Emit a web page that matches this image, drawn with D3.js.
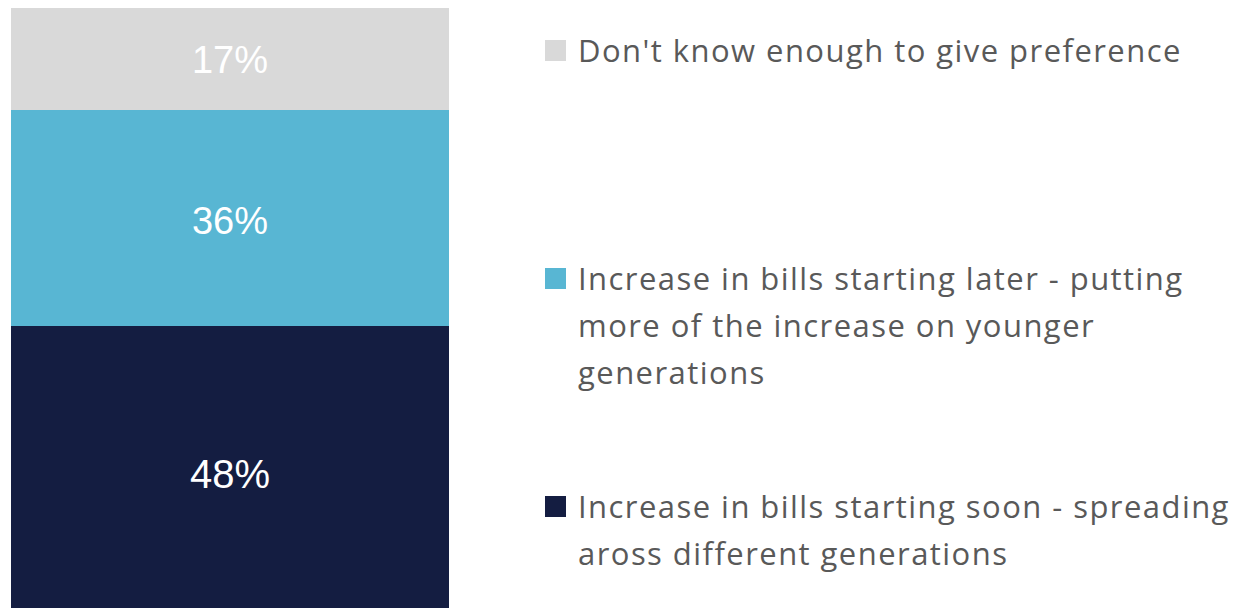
<!DOCTYPE html>
<html>
<head>
<meta charset="utf-8">
<script src="https://cdn.jsdelivr.net/npm/d3@7"></script>
<style>
  html, body { margin: 0; padding: 0; background: #ffffff; }
  svg { display: block; }
</style>
</head>
<body>
<svg id="chart" width="1240" height="608"></svg>
<script>
// Series, bottom to top of the stacked bar
const categories = [
  "Increase in bills starting soon - spreading aross different generations",
  "Increase in bills starting later - putting more of the increase on younger generations",
  "Don't know enough to give preference"
];
const values = [48, 36, 17];
const valueLabels = ["48%", "36%", "17%"];
const colors = ["#141d41", "#58b6d3", "#d9d9d9"];

// Legend text, split into its printed lines (legend listed top to bottom)
const legendOrder = [2, 1, 0];
const legendLines = [
  ["Increase in bills starting soon - spreading", "aross different generations"],
  ["Increase in bills starting later - putting", "more of the increase on younger", "generations"],
  ["Don't know enough to give preference"]
];

const svg = d3.select("#chart");

// Stack the single bar
const stackData = [Object.fromEntries(categories.map((c, i) => [c, values[i]]))];
const series = d3.stack().keys(categories)(stackData);

const total = d3.sum(values);
const y = d3.scaleLinear().domain([0, total]).range([614, 8]);
const x = d3.scaleBand().domain(["all"]).range([11, 449]).padding(0);

const bar = svg.append("g");
bar.selectAll("rect")
  .data(series)
  .join("rect")
  .attr("x", x("all"))
  .attr("width", x.bandwidth())
  .attr("y", d => y(d[0][1]))
  .attr("height", d => y(d[0][0]) - y(d[0][1]))
  .attr("fill", (d, i) => colors[i]);

bar.selectAll("text")
  .data(series)
  .join("text")
  .attr("x", x("all") + x.bandwidth() / 2)
  .attr("y", (d, i) => (y(d[0][0]) + y(d[0][1])) / 2 + [18, 16, 14][i])
  .attr("text-anchor", "middle")
  .attr("fill", "#ffffff")
  .attr("font-family", "'Liberation Sans', Arial, sans-serif")
  .attr("font-size", (d, i) => [40, 38, 38][i])
  .text((d, i) => valueLabels[i]);

// Legend
const legend = svg.append("g")
  .attr("font-family", "'Open Sans', sans-serif")
  .attr("font-size", 31)
  .attr("letter-spacing", "1.45px")
  .attr("fill", "#595959");

const legendTop = [40, 268, 496];
const lineH = 47;

legendOrder.forEach((si, k) => {
  const g = legend.append("g").attr("transform", `translate(545,${legendTop[k]})`);
  g.append("rect")
    .attr("x", 0).attr("y", 0)
    .attr("width", 21).attr("height", 21)
    .attr("fill", colors[si]);
  g.selectAll("text")
    .data(legendLines[si])
    .join("text")
    .attr("x", 33)
    .attr("y", (d, j) => 22 + j * lineH)
    .text(d => d);
});
</script>
</body>
</html>
